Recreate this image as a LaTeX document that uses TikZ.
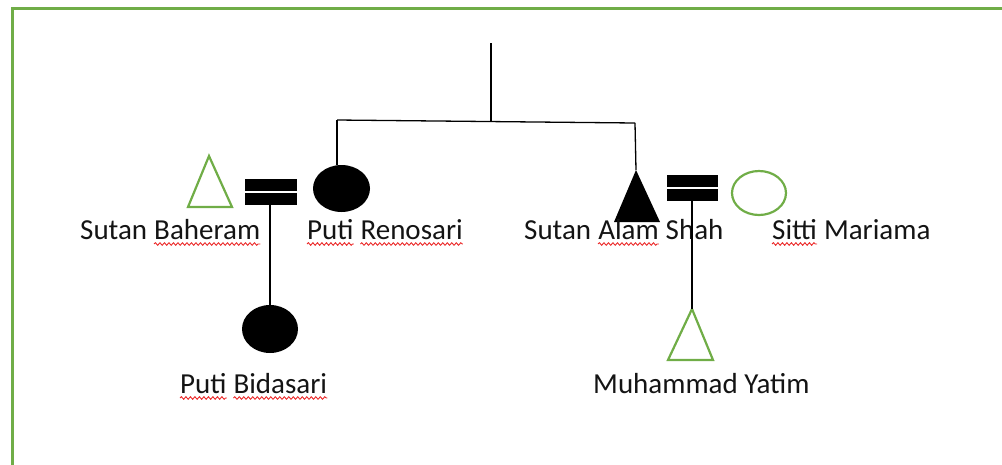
\documentclass[tikz,border=0pt]{standalone}
\usepackage{fontspec}
\setmainfont{Carlito}
\usetikzlibrary{decorations.pathmorphing,shapes.geometric}
\definecolor{ogreen}{RGB}{112,173,71}
\definecolor{spellred}{RGB}{235,40,40}
\begin{document}
\begin{tikzpicture}[x=1pt,y=-1pt,
  lbl/.style={inner sep=0pt, anchor=base west, font=\fontsize{29}{34}\selectfont, text=black!92},
  ln/.style={line width=1.3pt, black},
  grn/.style={draw=ogreen, line width=2.2pt},
  spell/.style={draw=spellred, line width=0.9pt, decorate, decoration={snake, amplitude=1.3pt, segment length=4.5pt}},
  bar/.style={fill=black, inner sep=0pt, minimum width=52pt, minimum height=12pt},
  dot/.style={ellipse, inner sep=0pt}]
\useasboundingbox (0,0) rectangle (1002,464);
% frame
\draw[ogreen, line width=3pt] (12,466) -- (12,8) -- (1004,8);

% coordinates of the sibling bracket
\coordinate (root) at (491,43);
\coordinate (join) at (491,121.5);
\coordinate (lc) at (337,120);
\coordinate (rc) at (635,123);
\coordinate (sasapex) at (636,170);
\coordinate (myapex) at (692,309);

% shapes
\node[dot, fill=black, minimum width=57pt, minimum height=47pt] (pr) at (341.5,188.5) {};
\node[dot, fill=black, minimum width=56pt, minimum height=48pt] (pb) at (270,329) {};
\node[dot, grn, minimum width=54pt, minimum height=44pt] (sm) at (759,193) {};
\draw[grn, line join=miter] (188,207) -- (209,156) -- (232,207) -- cycle;
\fill[black] (614,222) -- (sasapex) -- (660,222) -- cycle;
\draw[grn, line join=miter] (668,360) -- (myapex) -- (713,360) -- cycle;

\node[bar] (eqla) at (271,185) {};
\node[bar] (eqlb) at (271,199) {};
\node[bar, minimum width=51pt] (eqra) at (692.5,181) {};
\node[bar, minimum width=51pt] (eqrb) at (692.5,195) {};

% connectors
\draw[ln] (root) -- (join);
\draw[ln] (lc) -- (rc);
\draw[ln] (lc) -- (lc |- pr.north);
\draw[ln] (rc) -- (sasapex);

% labels
\node[lbl] (sb1) at (80,239) {Sutan};
\node[lbl] (sb2) at ([xshift=6.6pt]sb1.base east) {Baheram};
\node[lbl] (pr1) at (307,239) {Puti};
\node[lbl] (pr2) at ([xshift=6.6pt]pr1.base east) {Renosari};
\node[lbl] (sa1) at (524,239) {Sutan};
\node[lbl] (sa2) at ([xshift=6.6pt]sa1.base east) {Alam};
\node[lbl] (sa3) at ([xshift=6.6pt]sa2.base east) {Shah};
\node[lbl] (sm1) at (772,239) {Sitti};
\node[lbl] (sm2) at ([xshift=6.6pt]sm1.base east) {Mariama};
\node[lbl] (pb1) at (180,393) {Puti};
\node[lbl] (pb2) at ([xshift=6.6pt]pb1.base east) {Bidasari};
\node[lbl] (my1) at (593,393) {Muhammad Yatim};

% descent lines
\draw[ln] (eqlb.south -| pb.north) -- (pb.north);
\draw[ln] (eqrb.south -| myapex) -- (myapex);

% spell-check underlines
\foreach \w in {sb2,pr1,pr2,sa2,sm1,pb1,pb2}
  \draw[spell] ([yshift=-5pt]\w.base west) -- ([yshift=-5pt]\w.base east);
\end{tikzpicture}
\end{document}
